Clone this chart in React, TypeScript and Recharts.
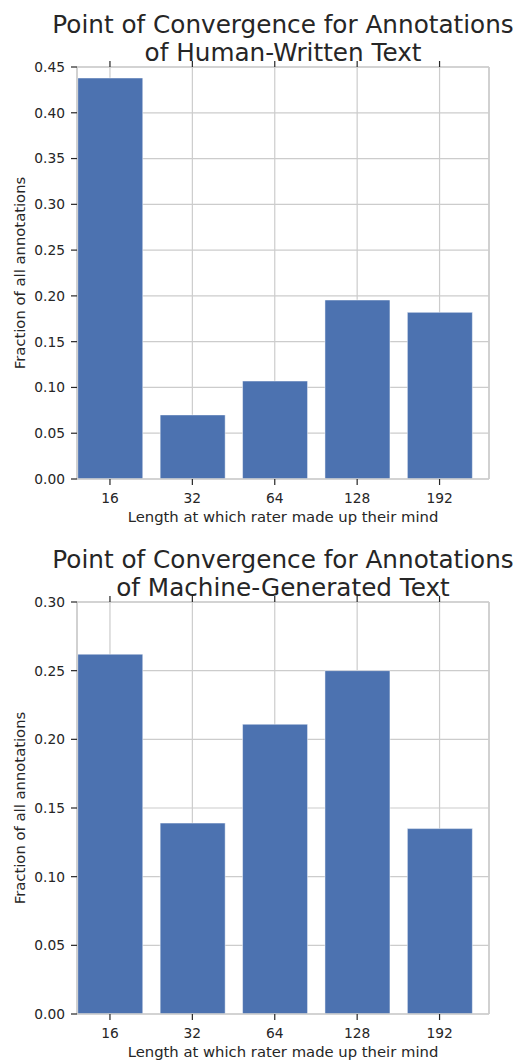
import { BarChart, Bar, XAxis, YAxis, CartesianGrid } from 'recharts';

const lengths = ['16', '32', '64', '128', '192'];
const humanFractions = [0.438, 0.070, 0.107, 0.1955, 0.182];
const machineFractions = [0.262, 0.139, 0.211, 0.250, 0.135];
const humanTicks = [0, 0.05, 0.1, 0.15, 0.2, 0.25, 0.3, 0.35, 0.4, 0.45];
const machineTicks = [0, 0.05, 0.1, 0.15, 0.2, 0.25, 0.3];

const FONT = '"DejaVu Sans", Verdana, sans-serif';
const INK = '#262626';
const GRID = '#cccccc';
const xTicks = lengths.map((_, i) => i);

function ConvergenceChart({ title, values, yTicks }: { title: string[]; values: number[]; yTicks: number[] }) {
    const data = lengths.map((l, i) => ({ idx: i, label: l, value: values[i] }));
    const yMax = yTicks[yTicks.length - 1];

    return (
        <div style={{ position: 'relative', width: 515, height: 535 }}>
            {/* Title */}
            <div style={{ position: 'absolute', left: 0, width: 566, top: 10.5, textAlign: 'center', fontFamily: FONT, fontSize: 24.7, lineHeight: '28.4px', color: INK, whiteSpace: 'nowrap' }}>
                {title.map(t => <div key={t}>{t}</div>)}
            </div>
            <BarChart width={515} height={535} data={data} margin={{ top: 57, right: 16, left: 17, bottom: 10 }}>
                <CartesianGrid xAxisId="bottom" yAxisId="left" stroke={GRID} strokeWidth={1.2} />
                <XAxis xAxisId="bottom" dataKey="idx" type="number" domain={[-0.4, 4.6]} ticks={xTicks} allowDataOverflow
                    tickFormatter={(v: number) => lengths[v] ?? ''} height={46}
                    axisLine={{ stroke: GRID, strokeWidth: 1.5 }} tickLine={{ stroke: INK, strokeWidth: 1.2 }} tickSize={6} tickMargin={8}
                    tick={{ fill: INK, fontSize: 13.8, fontFamily: FONT }}
                    label={{ value: 'Length at which rater made up their mind', position: 'insideBottom', offset: 3, fill: INK, fontSize: 14.8, fontFamily: FONT }} />
                <XAxis xAxisId="top" orientation="top" dataKey="idx" type="number" domain={[-0.4, 4.6]} ticks={xTicks} allowDataOverflow
                    tickFormatter={() => ''} height={10}
                    axisLine={{ stroke: GRID, strokeWidth: 1.5 }} tickLine={{ stroke: INK, strokeWidth: 1.2 }} tickSize={6} />
                <YAxis yAxisId="left" domain={[0, yMax]} ticks={yTicks} width={60}
                    tickFormatter={(v: number) => v.toFixed(2)}
                    axisLine={{ stroke: GRID, strokeWidth: 1.5 }} tickLine={{ stroke: INK, strokeWidth: 1.2 }} tickSize={6} tickMargin={6}
                    tick={{ fill: INK, fontSize: 13.8, fontFamily: FONT }}
                    label={{ value: 'Fraction of all annotations', angle: -90, position: 'insideLeft', offset: 3, fill: INK, fontSize: 14.8, fontFamily: FONT, style: { textAnchor: 'middle' } }} />
                <YAxis yAxisId="right" orientation="right" domain={[0, yMax]} ticks={yTicks} width={10}
                    tickFormatter={() => ''}
                    axisLine={{ stroke: GRID, strokeWidth: 1.5 }} tickLine={{ stroke: INK, strokeWidth: 1.2 }} tickSize={6} />
                <Bar xAxisId="bottom" yAxisId="left" dataKey="value" barSize={65} fill="#4c72b0" stroke="#ffffff" strokeOpacity={0.6} strokeWidth={0.8} isAnimationActive={false} />
            </BarChart>
        </div>
    );
}

export default function App() {
    return (
        <>
            <style>{`body { margin: 0; background: #fff; }`}</style>
            <div style={{ width: 515, height: 1060, overflow: 'hidden' }}>
                <ConvergenceChart title={['Point of Convergence for Annotations', 'of Human-Written Text']} values={humanFractions} yTicks={humanTicks} />
                <ConvergenceChart title={['Point of Convergence for Annotations', 'of Machine-Generated Text']} values={machineFractions} yTicks={machineTicks} />
            </div>
        </>
    );
}
